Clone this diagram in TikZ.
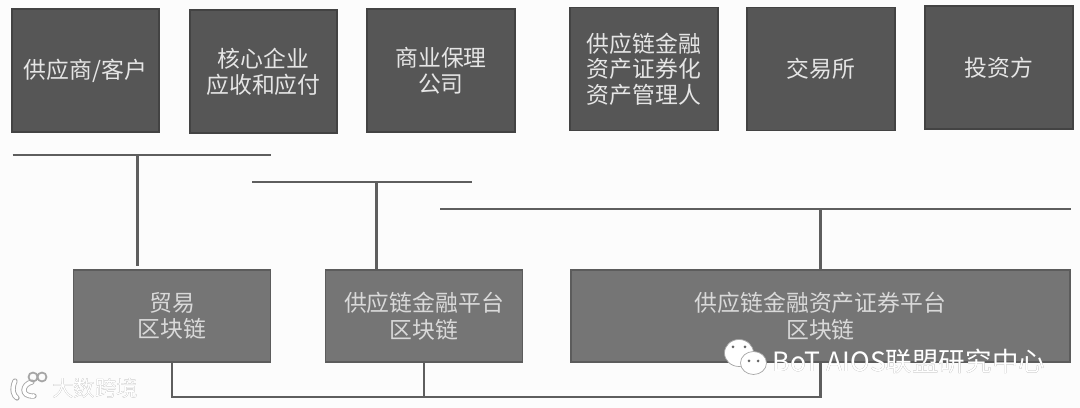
\documentclass[tikz,border=0pt]{standalone}
\usepackage{fontspec}
\usepackage{xcolor}
\usepackage[outline]{contour}
\setmainfont{Noto Sans CJK SC}
\contourlength{0.4pt}
\definecolor{topfill}{HTML}{565656}
\definecolor{topedge}{HTML}{434343}
\definecolor{lowfill}{HTML}{757575}
\definecolor{lowedge}{HTML}{5C5C5C}
\definecolor{linkgray}{HTML}{5E5E5E}
\tikzset{
    topbox/.style={draw=topedge, line width=1pt, fill=topfill, text=white!90!black, align=center,
        minimum width=84pt, minimum height=70pt, inner sep=0pt,
        font=\fontsize{13}{14.6}\selectfont},
    lowbox/.style={draw=lowedge, line width=1pt, fill=lowfill, text=white!85!black, align=center,
        minimum height=52pt, inner sep=0pt, font=\fontsize{13}{15.2}\selectfont},
    link/.style={draw=linkgray, line width=1.3pt},
    markwhite/.style={draw=gray!70, line width=0.4pt, fill=white}
}

\begin{document}
\begin{tikzpicture}[x=0.02cm, y=-0.02cm]
    \useasboundingbox (0,0) rectangle (1080,408);
    \fill[white!99!black] (0,0) rectangle (1080,408);

    % top row
    \node[topbox] (supplier) at (85.5,70.5) {供应商/客户};
    \node[topbox] (core) at (263.5,71.5) {核心企业\\应收和应付};
    \node[topbox] (factor) at (441,70.5) {商业保理\\公司};
    \node[topbox] (manager) at (644,69) {供应链金融\\资产证券化\\资产管理人};
    \node[topbox] (exchange) at (821,69) {交易所};
    \node[topbox] (investor) at (999,67.5) {投资方};

    % chains
    \node[lowbox, minimum width=112pt] (trade) at (172,316) {贸易\\区块链};
    \node[lowbox, minimum width=112pt] (finance) at (424,316) {供应链金融平台\\区块链};
    \node[lowbox, minimum width=284pt] (abs) at (820.5,316) {供应链金融资产证券平台\\区块链};

    % buses
    \coordinate (busaleft) at (12.5,155);
    \coordinate (busaright) at (271,155);
    \coordinate (busadrop) at (137.5,155);
    \coordinate (busbleft) at (252,182);
    \coordinate (busbright) at (472,182);
    \coordinate (busbdrop) at (376.5,182);
    \coordinate (buscleft) at (440,209);
    \coordinate (buscright) at (1071,209);
    \coordinate (busd) at (0,397);

    \draw[link] (busaleft) -- (busaright);
    \draw[link] (busbleft) -- (busbright);
    \draw[link] (buscleft) -- (buscright);
    \draw[link, shorten >=2pt] (busadrop) -- (busadrop |- trade.north);
    \draw[link] (busbdrop) -- (busbdrop |- finance.north);
    \draw[link] (abs.north |- buscleft) -- (abs.north);
    \draw[link] (trade.south) -- (trade.south |- busd) -- (abs.south |- busd) -- (abs.south);
    \draw[link] (finance.south) -- (finance.south |- busd);

    % marks over the picture
    \draw[gray!70, line width=3pt, line cap=round] (15,381) .. controls (11,390) and (14,396) .. (17,398);
    \draw[gray!70, line width=3pt, line cap=round] (32,382) .. controls (22,384) and (20,397) .. (34,396);
    \draw[white, line width=2pt, line cap=round] (15,381) .. controls (11,390) and (14,396) .. (17,398);
    \draw[white, line width=2pt, line cap=round] (32,382) .. controls (22,384) and (20,397) .. (34,396);
    \draw[gray!70, line width=1pt] (33,377) circle (4.5) (42,377) circle (4.5);
    \node[inner sep=0pt, text=white, font=\fontsize{12.2}{14}\selectfont] (bigdata) at (95,388) {\contour{gray}{大数跨境}};

    \draw[markwhite] (739,353) ellipse (14.5 and 13.5);
    \draw[markwhite] (753.5,363) ellipse (13 and 11.5);
    \foreach \x/\y in {733/347, 745/347, 749/361, 758/361} \fill[gray!80!black] (\x,\y) circle (1.5);
    \node[inner sep=0pt, text=white, font=\fontsize{15.1}{17}\selectfont] (wechat) at (909,361) {\contour{gray}{BoT AIOS联盟研究中心}};
\end{tikzpicture}
\end{document}
